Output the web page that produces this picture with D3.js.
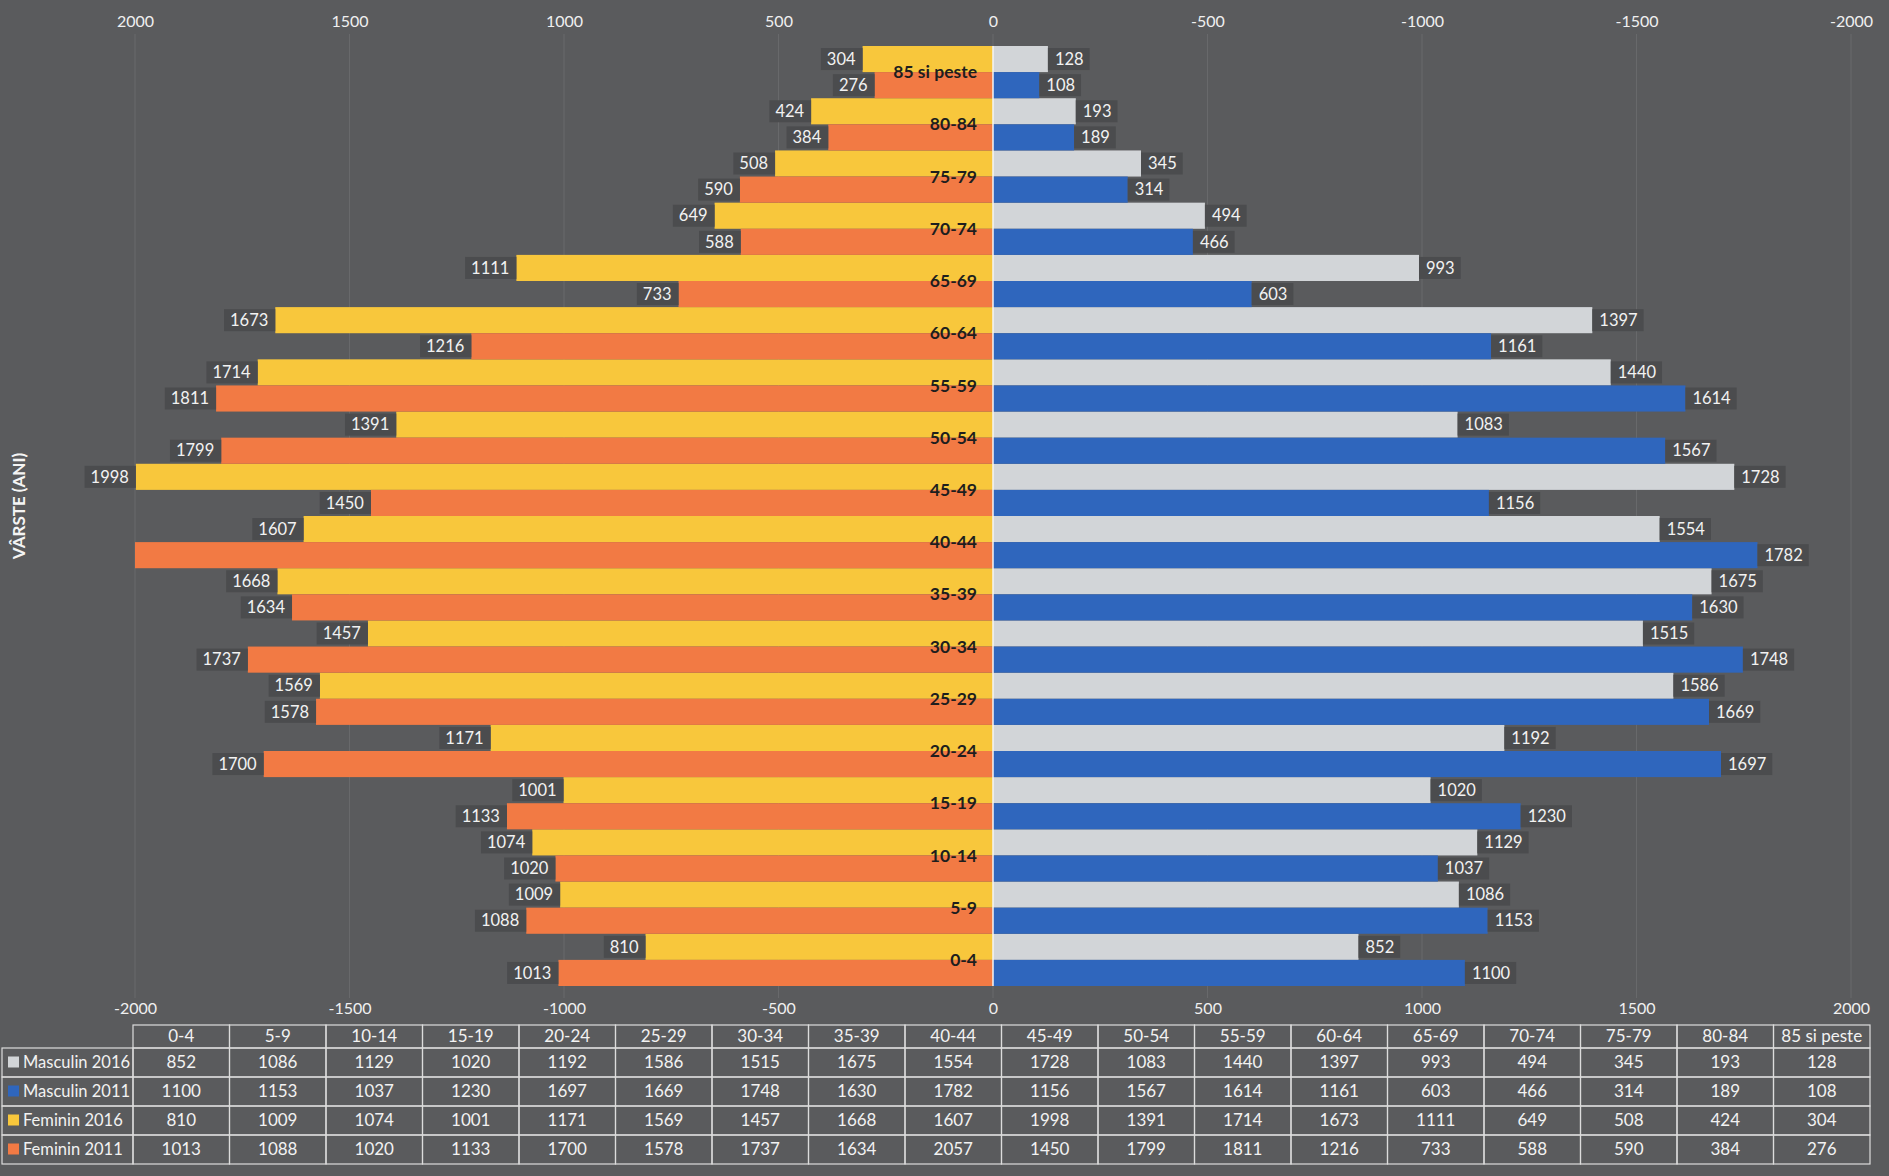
<!DOCTYPE html>
<html lang="ro">
<head>
    <meta charset="UTF-8">
    <title>Piramida varstelor</title>
    <script src="https://cdn.jsdelivr.net/npm/d3@7"></script>
    <style>
        html, body { margin: 0; padding: 0; background: #5a5b5d; }
        svg { display: block; font-family: Lato, "Open Sans", sans-serif; }
    </style>
</head>
<body>
<div id="chart"></div>
<script>
    // age groups, bottom to top
    const categories = ["0-4", "5-9", "10-14", "15-19", "20-24", "25-29", "30-34", "35-39", "40-44",
        "45-49", "50-54", "55-59", "60-64", "65-69", "70-74", "75-79", "80-84", "85 si peste"];

    const masculin2016 = [852, 1086, 1129, 1020, 1192, 1586, 1515, 1675, 1554, 1728, 1083, 1440, 1397, 993, 494, 345, 193, 128];
    const masculin2011 = [1100, 1153, 1037, 1230, 1697, 1669, 1748, 1630, 1782, 1156, 1567, 1614, 1161, 603, 466, 314, 189, 108];
    const feminin2016 = [810, 1009, 1074, 1001, 1171, 1569, 1457, 1668, 1607, 1998, 1391, 1714, 1673, 1111, 649, 508, 424, 304];
    const feminin2011 = [1013, 1088, 1020, 1133, 1700, 1578, 1737, 1634, 2057, 1450, 1799, 1811, 1216, 733, 588, 590, 384, 276];

    const axisTicks = [-2000, -1500, -1000, -500, 0, 500, 1000, 1500, 2000];

    const series = [
        { name: "Masculin 2016", values: masculin2016, color: "#d2d5d8", side: "m", pos: "a" },
        { name: "Masculin 2011", values: masculin2011, color: "#2f66bd", side: "m", pos: "b" },
        { name: "Feminin 2016", values: feminin2016, color: "#f8c73c", side: "f", pos: "a" },
        { name: "Feminin 2011", values: feminin2011, color: "#f27a44", side: "f", pos: "b" }
    ];

    const W = 1889, H = 1176;
    const plot = { left: 135, right: 1851, top: 46, bottom: 986 };

    const svg = d3.select("#chart").append("svg")
        .attr("width", W)
        .attr("height", H);

    svg.append("rect").attr("width", W).attr("height", H).attr("fill", "#5a5b5d");

    // male axis (bottom) and reversed female axis (top)
    const xM = d3.scaleLinear().domain([-2000, 2000]).range([plot.left, plot.right]).clamp(true);
    const xF = d3.scaleLinear().domain([2000, -2000]).range([plot.left, plot.right]).clamp(true);

    const y = d3.scaleBand()
        .domain(categories.slice().reverse())
        .range([plot.top, plot.bottom])
        .padding(0);

    const yInner = d3.scaleBand().domain(["a", "b"]).range([0, y.bandwidth()]);

    // faint gridlines
    svg.append("g")
        .selectAll("line")
        .data(axisTicks)
        .join("line")
        .attr("x1", d => xM(d)).attr("x2", d => xM(d))
        .attr("y1", 34).attr("y2", 998)
        .attr("stroke", "rgba(255,255,255,0.09)")
        .attr("stroke-width", 1);

    // bars
    series.forEach(s => {
        const sc = s.side === "m" ? xM : xF;
        svg.append("g")
            .selectAll("rect")
            .data(categories)
            .join("rect")
            .attr("x", (c, i) => Math.min(sc(0), sc(s.values[i])))
            .attr("y", c => y(c) + yInner(s.pos))
            .attr("width", (c, i) => Math.abs(sc(s.values[i]) - sc(0)))
            .attr("height", yInner.bandwidth())
            .attr("fill", s.color);
    });

    // zero line
    svg.append("line")
        .attr("x1", xM(0)).attr("x2", xM(0))
        .attr("y1", plot.top).attr("y2", plot.bottom)
        .attr("stroke", "#f4f4f4").attr("stroke-width", 1.5);

    // data labels with dark boxes
    series.forEach(s => {
        const sc = s.side === "m" ? xM : xF;
        const g = svg.append("g");
        categories.forEach((c, i) => {
            const v = s.values[i];
            if (v > 2000) return; // clipped bar, label falls outside plot area
            const end = sc(v);
            const cy = y(c) + yInner(s.pos) + yInner.bandwidth() / 2;
            const lg = g.append("g");
            const box = lg.append("rect").attr("fill", "#4b4c4e");
            const t = lg.append("text")
                .attr("y", cy)
                .attr("dy", "0.35em")
                .attr("fill", "#f2f2f2")
                .attr("font-size", 16.5)
                .text(v);
            const tw = t.node().getComputedTextLength();
            if (s.side === "m") {
                t.attr("x", end + 7).attr("text-anchor", "start");
                box.attr("x", end).attr("width", tw + 13);
            } else {
                t.attr("x", end - 7).attr("text-anchor", "end");
                box.attr("x", end - tw - 13).attr("width", tw + 13);
            }
            box.attr("y", cy - 11).attr("height", 22);
        });
    });

    // category labels
    svg.append("g")
        .selectAll("text")
        .data(categories)
        .join("text")
        .attr("x", xM(0) - 16)
        .attr("y", c => y(c) + y.bandwidth() / 2)
        .attr("dy", "0.35em")
        .attr("text-anchor", "end")
        .attr("font-size", 17.5)
        .attr("font-weight", "bold")
        .attr("fill", "#1e1e1e")
        .text(c => c);

    // top axis (female, reversed)
    const topAxis = svg.append("g")
        .attr("transform", "translate(0,30)")
        .call(d3.axisTop(xF).tickValues(axisTicks).tickFormat(d => String(d)).tickSize(0));
    // bottom axis (male)
    const bottomAxis = svg.append("g")
        .attr("transform", "translate(0,1000)")
        .call(d3.axisBottom(xM).tickValues(axisTicks).tickFormat(d => String(d)).tickSize(0));
    [topAxis, bottomAxis].forEach(a => {
        a.select(".domain").remove();
        a.selectAll("text")
            .attr("fill", "#f0f0f0")
            .attr("font-size", 16)
            .attr("font-family", "Lato, sans-serif");
    });

    // y title
    svg.append("text")
        .attr("transform", "translate(25,506) rotate(-90)")
        .attr("text-anchor", "middle")
        .attr("fill", "#f4f4f4")
        .attr("font-size", 17)
        .attr("font-weight", "bold")
        .text("VÂRSTE (ANI)");

    // data table
    const tbl = { left: 133, right: 1870, top: 1025, headH: 23, rowH: 29, labelLeft: 2 };
    const colX = d3.scaleBand().domain(categories).range([tbl.left, tbl.right]);
    const rowY = d3.scaleBand().domain(series.map(s => s.name))
        .range([tbl.top + tbl.headH, tbl.top + tbl.headH + tbl.rowH * series.length]);
    const tg = svg.append("g");
    const lineCol = "#dcdcdc";

    // header cells
    categories.forEach(c => {
        tg.append("rect")
            .attr("x", colX(c)).attr("y", tbl.top)
            .attr("width", colX.bandwidth()).attr("height", tbl.headH)
            .attr("fill", "none").attr("stroke", lineCol).attr("stroke-width", 1.2);
        tg.append("text")
            .attr("x", colX(c) + colX.bandwidth() / 2)
            .attr("y", tbl.top + tbl.headH / 2)
            .attr("dy", "0.35em")
            .attr("text-anchor", "middle")
            .attr("fill", "#f2f2f2").attr("font-size", 17)
            .text(c);
    });

    series.forEach(s => {
        const ry = rowY(s.name);
        tg.append("rect")
            .attr("x", tbl.labelLeft).attr("y", ry)
            .attr("width", tbl.left - tbl.labelLeft).attr("height", rowY.bandwidth())
            .attr("fill", "none").attr("stroke", lineCol).attr("stroke-width", 1.2);
        tg.append("rect")
            .attr("x", 8).attr("y", ry + rowY.bandwidth() / 2 - 6)
            .attr("width", 11).attr("height", 11)
            .attr("fill", s.color);
        tg.append("text")
            .attr("x", 23).attr("y", ry + rowY.bandwidth() / 2)
            .attr("dy", "0.35em")
            .attr("fill", "#f2f2f2").attr("font-size", 16.5)
            .text(s.name);
        categories.forEach((c, i) => {
            tg.append("rect")
                .attr("x", colX(c)).attr("y", ry)
                .attr("width", colX.bandwidth()).attr("height", rowY.bandwidth())
                .attr("fill", "none").attr("stroke", lineCol).attr("stroke-width", 1.2);
            tg.append("text")
                .attr("x", colX(c) + colX.bandwidth() / 2)
                .attr("y", ry + rowY.bandwidth() / 2)
                .attr("dy", "0.35em")
                .attr("text-anchor", "middle")
                .attr("fill", "#f2f2f2").attr("font-size", 17)
                .text(s.values[i]);
        });
    });
</script>
</body>
</html>
